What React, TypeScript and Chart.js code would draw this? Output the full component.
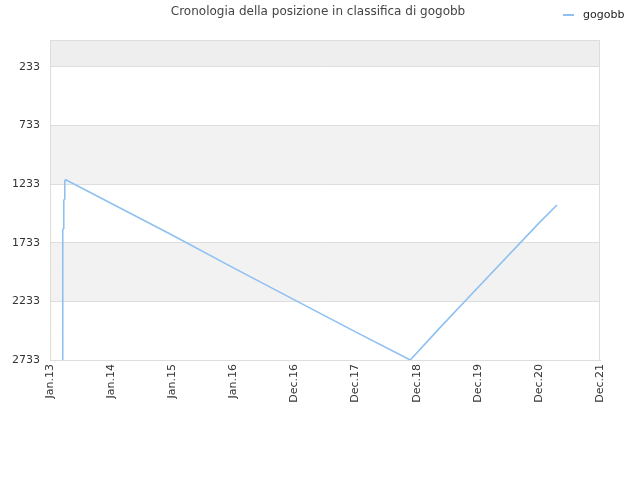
import { useEffect, useRef } from "react";
import { Chart, registerables } from "chart.js";

Chart.register(...registerables);

// x values are days since 5 Jan 2013, ticks every 52 weeks
const tickLabels = ["Jan.13", "Jan.14", "Jan.15", "Jan.16", "Dec.16", "Dec.17", "Dec.18", "Dec.19", "Dec.20", "Dec.21"];
const rankTicks = [233, 733, 1233, 1733, 2233, 2733];
const days = [76, 76, 82, 82, 88, 88, 94, 727, 1090, 1453, 1817, 2146, 2323, 2549, 2912, 3020];
const ranks = [2733, 1620, 1610, 1370, 1360, 1205, 1195, 1667, 1945, 2218, 2491, 2733, 2457, 2114, 1565, 1411];

const FONT = "'DejaVu Sans', sans-serif";
const LINE = "#8ec0f2";

const framePlugin = {
  id: "frame",
  beforeDraw(chart: Chart) {
    const { ctx, chartArea } = chart;
    const y = chart.scales.y;
    const { left, right, top } = chartArea;
    ctx.save();
    // top band above first tick
    ctx.fillStyle = "#eeeeee";
    ctx.fillRect(left, top, right - left, y.getPixelForValue(rankTicks[0]) - top);
    ctx.fillStyle = "#f2f2f2";
    for (let i = 1; i < rankTicks.length - 1; i += 2) {
      const y0 = y.getPixelForValue(rankTicks[i]);
      const y1 = y.getPixelForValue(rankTicks[i + 1]);
      ctx.fillRect(left, y0, right - left, y1 - y0);
    }
    ctx.restore();
  },
  afterDraw(chart: Chart) {
    const { ctx, chartArea } = chart;
    const { left, right, top, bottom } = chartArea;
    ctx.save();
    ctx.strokeStyle = "#dddddd";
    ctx.lineWidth = 1;
    ctx.strokeRect(left + 0.5, top + 0.5, right - left - 1, bottom - top);
    ctx.fillStyle = "#444444";
    ctx.font = "12px " + FONT;
    ctx.textAlign = "center";
    ctx.textBaseline = "middle";
    ctx.fillText("Cronologia della posizione in classifica di gogobb", 318, 12);
    ctx.strokeStyle = LINE;
    ctx.lineWidth = 2;
    ctx.beginPath();
    ctx.moveTo(563, 15);
    ctx.lineTo(574, 15);
    ctx.stroke();
    ctx.fillStyle = "#222222";
    ctx.font = "11px " + FONT;
    ctx.textAlign = "left";
    ctx.fillText("gogobb", 583, 15);
    ctx.restore();
  },
};

export default function App() {
  const canvasRef = useRef<HTMLCanvasElement>(null);
  const chartRef = useRef<Chart | null>(null);

  useEffect(() => {
    document.body.style.margin = "0";
    if (!canvasRef.current) return;
    if (chartRef.current) chartRef.current.destroy();
    const ctx = canvasRef.current.getContext("2d");
    if (!ctx) return;
    chartRef.current = new Chart(ctx, {
      type: "line",
      data: {
        datasets: [
          {
            label: "gogobb",
            data: days.map((d, i) => ({ x: d, y: ranks[i] })),
            borderColor: LINE,
            borderWidth: 1.6,
            pointRadius: 0,
            tension: 0,
            fill: false,
          },
        ],
      },
      options: {
        animation: false,
        responsive: false,
        maintainAspectRatio: false,
        layout: { padding: { top: 40, right: 40, left: 0, bottom: 0 } },
        plugins: {
          legend: { display: false },
          title: { display: false },
          tooltip: { enabled: false },
        },
        scales: {
          x: {
            type: "linear",
            min: 0,
            max: 364 * 9,
            afterBuildTicks: (scale: any) => {
              scale.ticks = tickLabels.map((_, i) => ({ value: i * 364 }));
            },
            afterFit: (scale: any) => {
              scale.height = 120;
            },
            ticks: {
              minRotation: 90,
              maxRotation: 90,
              autoSkip: false,
              padding: 4,
              color: "#333333",
              font: { family: FONT, size: 11 },
              callback: (v: any) => tickLabels[Math.round(Number(v) / 364)] ?? "",
            },
            grid: { display: false, drawTicks: false },
            border: { display: true, color: "#dddddd" },
          },
          y: {
            type: "linear",
            reverse: true,
            min: 3,
            max: 2733,
            afterBuildTicks: (scale: any) => {
              scale.ticks = rankTicks.map((v) => ({ value: v }));
            },
            afterFit: (scale: any) => {
              scale.width = 50;
            },
            ticks: {
              padding: 10,
              color: "#333333",
              font: { family: FONT, size: 11 },
              callback: (v: any) => String(v),
            },
            grid: { color: "#dddddd", drawTicks: false },
            border: { display: true, color: "#dddddd" },
          },
        },
      },
      plugins: [framePlugin],
    });
    return () => {
      if (chartRef.current) {
        chartRef.current.destroy();
        chartRef.current = null;
      }
    };
  }, []);

  return (
    <div style={{ width: 640, height: 480, background: "#ffffff" }}>
      <canvas ref={canvasRef} width={640} height={480}></canvas>
    </div>
  );
}
